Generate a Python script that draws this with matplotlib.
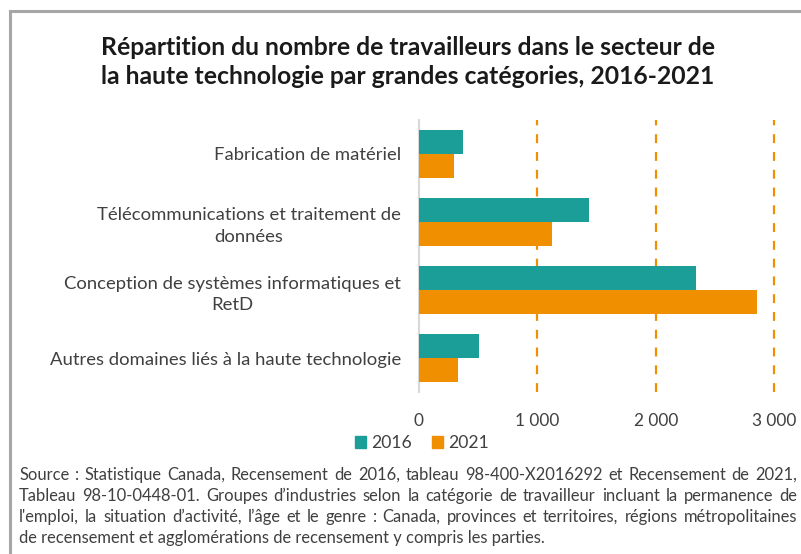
import numpy as np
import matplotlib
matplotlib.use('Agg')
import matplotlib.pyplot as plt
from matplotlib.patches import Patch, Rectangle

plt.rcParams['font.family'] = ['Lato', 'DejaVu Sans']

#--data
categories = ['Fabrication de matériel',
              'Télécommunications et traitement de\ndonnées',
              'Conception de systèmes informatiques et\nRetD',
              'Autres domaines liés à la haute technologie']
years = ['2016', '2021']
v2016 = [373, 1438, 2339, 508]
v2021 = [297, 1125, 2851, 328]
xticks = [0, 1000, 2000, 3000]
xticklabels = ['0', '1 000', '2 000', '3 000']

title = ('Répartition du nombre de travailleurs dans le secteur de\n'
         'la haute technologie par grandes catégories, 2016-2021')
source_lines = [
    "Source : Statistique Canada, Recensement de 2016, tableau 98-400-X2016292 et Recensement de 2021,",
    "Tableau 98-10-0448-01. Groupes d’industries selon la catégorie de travailleur incluant la permanence de",
    "l'emploi, la situation d’activité, l’âge et le genre : Canada, provinces et territoires, régions métropolitaines",
    "de recensement et agglomérations de recensement y compris les parties.",
]

teal = '#1a9e97'
orange = '#f08f00'
txt = '#404040'

W, H = 801, 554
fig = plt.figure(figsize=(W/100, H/100), dpi=100)

#--outer frame (right/bottom cut off like the reference)
fig.patches.append(Rectangle((9.5/W, -0.1), 2.0, 1.1 - 10.5/H, transform=fig.transFigure,
                             fill=False, ec='#a6a6a6', lw=2.2, zorder=0))

ax = fig.add_axes([419/W, 1 - 392/H, 358.8/W, 272/H])

y = np.arange(len(categories))
h = 0.35
ax.barh(y - h/2, v2016, height=h, color=teal, label=years[0], zorder=3)
ax.barh(y + h/2, v2021, height=h, color=orange, label=years[1], zorder=3)

ax.set_ylim(len(categories) - 0.5, -0.5)
ax.set_xlim(0, 3030)

ax.set_yticks(y)
ax.set_yticklabels(categories, fontsize=13.3, color=txt, multialignment='center',
                   linespacing=1.4)
ax.set_xticks(xticks)
ax.set_xticklabels(xticklabels, fontsize=12.4, color=txt)
ax.tick_params(axis='both', length=0)
ax.tick_params(axis='y', pad=13)
ax.tick_params(axis='x', pad=15)

for xv in xticks[1:]:
    ax.axvline(xv, color=orange, lw=1.6, ls=(0, (4, 4)), zorder=1, clip_on=False)

for s in ['top', 'right', 'bottom']:
    ax.spines[s].set_visible(False)
ax.spines['left'].set_color('#d9d9d9')
ax.spines['left'].set_linewidth(1.5)

#--title
fig.text(408/W, 1 - 62/H, title, ha='center', va='center', fontsize=17.8,
         fontweight='bold', color='#1a1a1a', linespacing=1.35)

#--legend
handles = [Patch(color=teal), Patch(color=orange)]
fig.legend(handles, years, loc='center', bbox_to_anchor=(422/W, 1 - 443/H), ncol=2,
           frameon=False, fontsize=12.6, handlelength=0.65, handleheight=0.65,
           handletextpad=0.3, columnspacing=1.1, labelcolor=txt)

#--justified source text
renderer = fig.canvas.get_renderer()
x0, x1 = 19, 797
ys = [475, 496, 517, 538]
fs = 11.9
for i, line in enumerate(source_lines):
    yy = 1 - ys[i]/H
    if i == len(source_lines) - 1:
        fig.text(x0/W, yy, line, fontsize=fs, color=txt, va='center', ha='left')
        continue
    words = line.split(' ')
    widths = []
    for w in words:
        t = fig.text(0, 0, w, fontsize=fs)
        widths.append(t.get_window_extent(renderer).width)
        t.remove()
    gap = (x1 - x0 - sum(widths)) / (len(words) - 1)
    xx = x0
    for w, wd in zip(words, widths):
        fig.text(xx/W, yy, w, fontsize=fs, color=txt, va='center', ha='left')
        xx += wd + gap

fig.savefig('out.png', dpi=100)
